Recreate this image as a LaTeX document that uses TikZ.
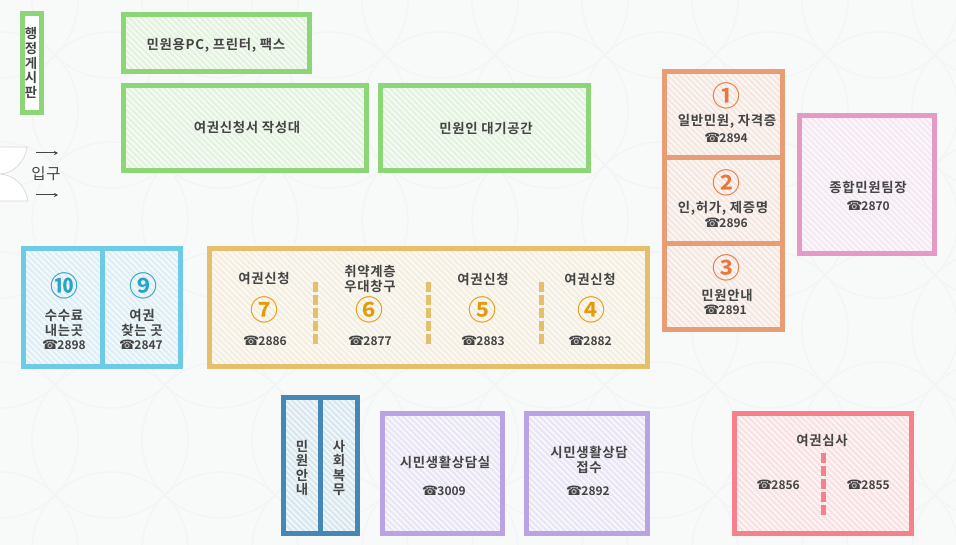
\documentclass[tikz,border=0pt]{standalone}
\usepackage{fontspec}
\setmainfont{Noto Sans CJK KR}[BoldFont={Noto Sans CJK KR Bold},LetterSpace=5]
\newfontfamily\symfont{DejaVu Sans}
\newfontfamily\numfont{Noto Sans CJK KR Bold}
\newfontfamily\telfont{Noto Sans CJK KR Bold}
\usetikzlibrary{patterns.meta,arrows.meta}
\definecolor{bgc}{HTML}{F8F9F9}
\definecolor{bgl}{HTML}{F3F4F5}
\definecolor{ink}{HTML}{444444}
\definecolor{cg}{HTML}{8DD678}\definecolor{fg}{HTML}{E4F2E0}
\definecolor{co}{HTML}{E89D75}\definecolor{fo}{HTML}{F4E8E1}
\definecolor{cp}{HTML}{E59AC6}\definecolor{fp}{HTML}{F5E9F3}
\definecolor{cb}{HTML}{6ECBE6}\definecolor{fb}{HTML}{DFEFF5}
\definecolor{cy}{HTML}{E6BF6C}\definecolor{fy}{HTML}{F4EFE1}
\definecolor{cd}{HTML}{4588B5}\definecolor{fd}{HTML}{D9E7EE}
\definecolor{cv}{HTML}{B9A3E3}\definecolor{fv}{HTML}{EAE6F5}
\definecolor{cr}{HTML}{F4818B}\definecolor{fr}{HTML}{F8E2E4}
\definecolor{numo}{HTML}{E8773D}\definecolor{numb}{HTML}{2BA3C6}\definecolor{numy}{HTML}{E59A0C}
\tikzset{
  room/.style n args={2}{draw=#1,line width=5pt,rectangle,inner sep=0pt,outer sep=0pt,
    preaction={fill=#2},pattern={Lines[angle=-45,distance=4.2pt,line width=1.5pt]},pattern color=white!75!#2},
  lbl/.style={text=ink,font=\bfseries\fontsize{13.4}{14.6}\selectfont,align=center,inner sep=0pt,yshift=-1pt},
  tel/.style={text=ink,font=\telfont\fontsize{12}{14}\selectfont,inner sep=0pt},
  num/.style={font=\numfont\fontsize{28}{28}\selectfont,inner sep=0pt},
  divider/.style={line width=5pt},
  dashdiv/.style={line width=5pt,dash pattern=on 10pt off 3pt},
  door/.style={draw=black!15,fill=white,line width=.7pt},
  enter/.style={draw=ink,line width=1pt,-{Stealth[length=4pt,width=4pt]}},
}
\newcommand{\roombox}[7]{\node[room={#6}{#7},minimum width=#4pt-#2pt-5pt,minimum height=#5pt-#3pt-5pt] (#1) at ({(#2+#4)/2},{(#3+#5)/2}) {};}
\newcommand{\ph}[1]{{\symfont\fontsize{13}{13}\selectfont\char"260E}\hspace{-1pt}#1}
\begin{document}
\begin{tikzpicture}[x=1pt,y=-1pt]
\useasboundingbox (0,0) rectangle (956,545);
\fill[bgc] (0,0) rectangle (956,545);
\begin{scope}
\clip (0,0) rectangle (956,545);
\foreach \i in {0,...,9}{\foreach \j in {0,...,5}{
  \draw[bgl,line width=1.3pt] (\i*110,\j*110) circle[radius=78];
}}
\end{scope}
% doors
\path[door] (0,147) -- (27,147) .. controls (25,162) and (14,173) .. (0,174);
\path[door] (0,174) .. controls (14,175) and (26,186) .. (28,201) -- (0,201);
\coordinate (a1s) at (36,153);\coordinate (a1e) at (58,153);
\coordinate (a2s) at (36,195);\coordinate (a2e) at (58,195);
\draw[enter] (a1s) -- (a1e);
\draw[enter] (a2s) -- (a2e);
\node[text=ink,font=\fontsize{15.5}{16}\selectfont,inner sep=0pt] (entry) at (46,174) {입구};
% rooms
\roombox{board}{20}{11}{44}{115}{cg}{white}
\roombox{pc}{121}{12}{312}{74}{cg}{fg}
\roombox{desk}{121}{83}{369}{173}{cg}{fg}
\roombox{wait}{378}{83}{591}{173}{cg}{fg}
\roombox{orange}{662}{69}{785}{332}{co}{fo}
\roombox{pink}{797}{113}{937}{256}{cp}{fp}
\roombox{blue}{21}{246}{183}{369}{cb}{fb}
\roombox{yellow}{207}{246}{650}{369}{cy}{fy}
\roombox{dark}{281}{395}{360}{536}{cd}{fd}
\roombox{violA}{380}{411}{505}{536}{cv}{fv}
\roombox{violB}{524}{411}{650}{536}{cv}{fv}
\roombox{red}{732}{411}{914}{536}{cr}{fr}
% dividers
\coordinate (o1a) at (662,157.5);\coordinate (o1b) at (785,157.5);
\coordinate (o2a) at (662,243.5);\coordinate (o2b) at (785,243.5);
\coordinate (b1a) at (102.5,246);\coordinate (b1b) at (102.5,369);
\coordinate (d1a) at (320.5,395);\coordinate (d1b) at (320.5,536);
\draw[divider,co] (o1a) -- (o1b);
\draw[divider,co] (o2a) -- (o2b);
\draw[divider,cb] (b1a) -- (b1b);
\draw[divider,cd] (d1a) -- (d1b);
\coordinate (y1a) at (315.5,282);\coordinate (y1b) at (315.5,344);
\coordinate (y2a) at (428.5,282);\coordinate (y2b) at (428.5,344);
\coordinate (y3a) at (541.5,282);\coordinate (y3b) at (541.5,344);
\coordinate (r1a) at (823.5,453);\coordinate (r1b) at (823.5,516);
\draw[dashdiv,cy] (y1a) -- (y1b);
\draw[dashdiv,cy] (y2a) -- (y2b);
\draw[dashdiv,cy] (y3a) -- (y3b);
\draw[dashdiv,cr] (r1a) -- (r1b);
% labels
\node[lbl] (tboard) at (31,62) {행\\정\\게\\시\\판};
\node[lbl] (tpc) at (216,44) {민원용PC, 프린터, 팩스};
\node[lbl] (tdesk) at (247,126) {여권신청서 작성대};
\node[lbl] (twait) at (486,127) {민원인 대기공간};
% orange
\node[num,text=numo] (n1) at (726,96) {①};
\node[lbl] (t1) at (727,120) {일반민원, 자격증};
\node[tel] (p1) at (726,138) {\ph{2894}};
\node[num,text=numo] (n2) at (726,183) {②};
\node[lbl] (t2) at (723,207) {인,허가, 제증명};
\node[tel] (p2) at (726,223) {\ph{2896}};
\node[num,text=numo] (n3) at (726,268) {③};
\node[lbl] (t3) at (727,294) {민원안내};
\node[tel] (p3) at (725,310) {\ph{2891}};
% pink
\node[lbl] (tp) at (868,186) {종합민원팀장};
\node[tel] (pp) at (868,206) {\ph{2870}};
% blue
\node[num,text=numb] (n10) at (64,286) {⑩};
\node[lbl] (t10) at (64,322) {수수료\\내는곳};
\node[tel] (p10) at (64,345) {\ph{2898}};
\node[num,text=numb] (n9) at (143,286) {⑨};
\node[lbl] (t9) at (142,322) {여권\\찾는 곳};
\node[tel] (p9) at (141,345) {\ph{2847}};
% yellow
\node[lbl] (t7) at (264,277) {여권신청};
\node[num,text=numy] (n7) at (264,310) {⑦};
\node[tel] (p7) at (265,341) {\ph{2886}};
\node[lbl] (t6) at (370,278) {취약계층\\우대창구};
\node[num,text=numy] (n6) at (369,310) {⑥};
\node[tel] (p6) at (370,341) {\ph{2877}};
\node[lbl] (t5) at (483,278) {여권신청};
\node[num,text=numy] (n5) at (482,310) {⑤};
\node[tel] (p5) at (483,341) {\ph{2883}};
\node[lbl] (t4) at (590,278) {여권신청};
\node[num,text=numy] (n4) at (591,310) {④};
\node[tel] (p4) at (590,341) {\ph{2882}};
% bottom
\node[lbl] (td1) at (302,467) {민\\원\\안\\내};
\node[lbl] (td2) at (339,467) {사\\회\\복\\무};
\node[lbl] (tv1) at (445,461) {시민생활상담실};
\node[tel] (pv1) at (444,491) {\ph{3009}};
\node[lbl] (tv2) at (589,459) {시민생활상담\\접수};
\node[tel] (pv2) at (588,491) {\ph{2892}};
\node[lbl] (tr) at (822,439) {여권심사};
\node[tel] (pr1) at (778,485) {\ph{2856}};
\node[tel] (pr2) at (868,485) {\ph{2855}};
\end{tikzpicture}
\end{document}
